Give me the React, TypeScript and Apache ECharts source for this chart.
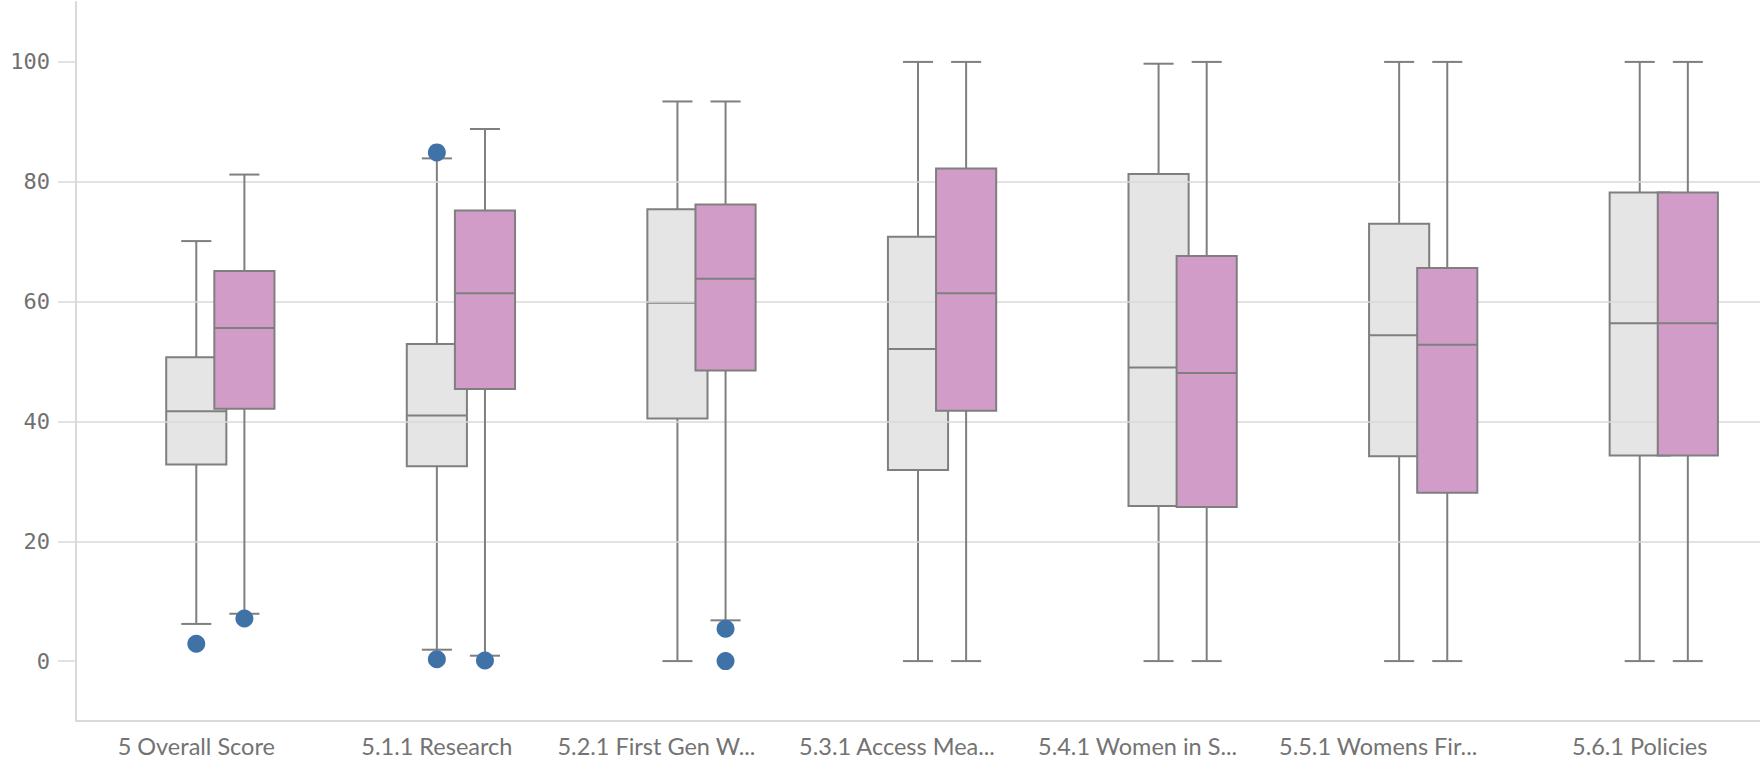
import React, { useEffect, useRef } from 'react';
import * as echarts from 'echarts';

// Category labels along the x axis (long names are shown shortened)
const categories = [
  '5 Overall Score',
  '5.1.1 Research',
  '5.2.1 First Gen W...',
  '5.3.1 Access Mea...',
  '5.4.1 Women in S...',
  '5.5.1 Womens Fir...',
  '5.6.1 Policies',
];

// Box statistics per category: [min, q1, median, q3, max]
const greyStats = [
  [6.2, 32.8, 41.7, 50.7, 70.1],
  [1.9, 32.5, 41.0, 52.9, 83.9],
  [0, 40.5, 59.8, 75.4, 93.4],
  [0, 31.9, 52.1, 70.8, 100],
  [0, 25.9, 49.0, 81.3, 99.7],
  [0, 34.2, 54.4, 73.0, 100],
  [0, 34.3, 56.4, 78.2, 100],
];

const pinkStats = [
  [7.9, 42.1, 55.6, 65.1, 81.2],
  [0.9, 45.4, 61.4, 75.2, 88.8],
  [6.8, 48.5, 63.8, 76.2, 93.4],
  [0, 41.8, 61.4, 82.2, 100],
  [0, 25.7, 48.1, 67.6, 100],
  [0, 28.1, 52.8, 65.6, 100],
  [0, 34.3, 56.4, 78.2, 100],
];

// Outliers: [category index, value]
const greyOutliers = [
  [0, 2.9],
  [1, 84.9],
  [1, 0.3],
];
const pinkOutliers = [
  [0, 7.1],
  [1, 0.1],
  [2, 5.4],
  [2, 0],
];

const yTicks = [0, 20, 40, 60, 80, 100];

const STROKE = '#7f7f7f';
const GRID_COLOR = '#d9d9d9';
const GREY_FILL = 'rgba(222,222,222,0.8)';
const PINK_FILL = '#d29cc9';
const DOT_COLOR = '#3f73a8';

// Horizontal shift of each series inside its category band (fraction of band width)
const GREY_SHIFT = 0;
const PINK_SHIFT = 0.2;

function boxRenderer(shift: number, fill: string) {
  return (_params: any, api: any) => {
    const idx = api.value(0);
    const band = api.size([1, 0])[0];
    const cx = api.coord([idx, 0])[0] + band * shift;
    const y = (dim: number) => api.coord([idx, api.value(dim)])[1];
    const yMin = y(1);
    const yQ1 = y(2);
    const yMed = y(3);
    const yQ3 = y(4);
    const yMax = y(5);
    const half = band * 0.125;
    const cap = band * 0.0625;
    const line = (x1: number, y1: number, x2: number, y2: number) => ({
      type: 'line',
      shape: { x1, y1, x2, y2 },
      style: { stroke: STROKE, lineWidth: 2 },
    });
    return {
      type: 'group',
      children: [
        line(cx, yMax, cx, yQ3),
        line(cx, yQ1, cx, yMin),
        line(cx - cap, yMax, cx + cap, yMax),
        line(cx - cap, yMin, cx + cap, yMin),
        {
          type: 'rect',
          shape: { x: cx - half, y: yQ3, width: half * 2, height: yQ1 - yQ3 },
          style: { fill, stroke: STROKE, lineWidth: 2 },
        },
        line(cx - half, yMed, cx + half, yMed),
      ],
    };
  };
}

function dotRenderer(shift: number) {
  return (_params: any, api: any) => {
    const idx = api.value(0);
    const band = api.size([1, 0])[0];
    const p = api.coord([idx, api.value(1)]);
    return {
      type: 'circle',
      shape: { cx: p[0] + band * shift, cy: p[1], r: 9 },
      style: { fill: DOT_COLOR },
    };
  };
}

export default function App() {
  const ref = useRef<HTMLDivElement>(null);

  useEffect(() => {
    if (!ref.current) return;
    const chart = echarts.init(ref.current, undefined, { renderer: 'svg' });

    const xData = categories.map((c) =>
      c.endsWith('...') ? { value: c, textStyle: { padding: [0, 42, 0, 0] } } : c
    );

    chart.setOption({
      animation: false,
      backgroundColor: '#ffffff',
      grid: {
        left: 76,
        right: 0,
        top: 2,
        bottom: 43,
        containLabel: false,
        outerBoundsMode: 'none',
      },
      xAxis: {
        type: 'category',
        data: xData,
        axisLine: { show: true, onZero: false, lineStyle: { color: GRID_COLOR, width: 2 } },
        axisTick: { show: false },
        splitLine: { show: false },
        axisLabel: {
          interval: 0,
          margin: 13,
          fontFamily: 'Lato',
          fontSize: 23.5,
          color: '#737373',
        },
      },
      yAxis: {
        type: 'value',
        min: -10,
        max: 110,
        axisLine: { show: true, lineStyle: { color: GRID_COLOR, width: 2 } },
        axisTick: {
          show: true,
          length: 18,
          customValues: yTicks,
          lineStyle: { color: GRID_COLOR, width: 1.5 },
        },
        axisLabel: {
          customValues: yTicks,
          margin: 26,
          fontFamily: 'DejaVu Sans Mono',
          fontSize: 22,
          color: '#707070',
        },
        splitLine: {
          show: true,
          showMinLine: false,
          showMaxLine: false,
          lineStyle: { color: GRID_COLOR, width: 1.5 },
        },
      },
      series: [
        {
          type: 'custom',
          z: -1,
          renderItem: boxRenderer(GREY_SHIFT, GREY_FILL),
          encode: { x: 0, y: [1, 2, 3, 4, 5] },
          data: greyStats.map((s, i) => [i, ...s]),
        },
        {
          type: 'custom',
          z: 2,
          renderItem: boxRenderer(PINK_SHIFT, PINK_FILL),
          encode: { x: 0, y: [1, 2, 3, 4, 5] },
          data: pinkStats.map((s, i) => [i, ...s]),
        },
        {
          type: 'custom',
          z: 3,
          renderItem: dotRenderer(GREY_SHIFT),
          encode: { x: 0, y: 1 },
          data: greyOutliers,
        },
        {
          type: 'custom',
          z: 3,
          renderItem: dotRenderer(PINK_SHIFT),
          encode: { x: 0, y: 1 },
          data: pinkOutliers,
        },
      ],
    });

    return () => chart.dispose();
  }, []);

  return (
    <div
      ref={ref}
      style={{ position: 'absolute', left: 0, top: 0, width: 1760, height: 764 }}
    />
  );
}
